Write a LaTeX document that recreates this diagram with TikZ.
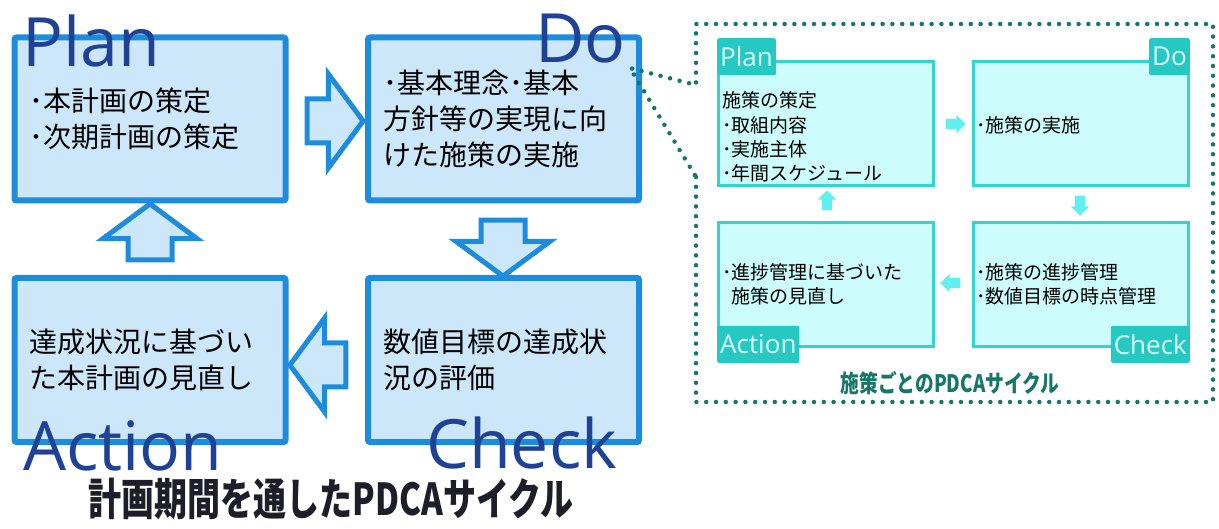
\documentclass[tikz,border=0pt]{standalone}
\usepackage{fontspec}
\setmainfont{Open Sans}
\newfontfamily\jpfont{Noto Sans CJK JP}
\usetikzlibrary{shapes.arrows}
\definecolor{mainblue}{RGB}{30,140,220}
\definecolor{mainfill}{RGB}{204,230,250}
\definecolor{navy}{RGB}{32,66,148}
\definecolor{cyanline}{RGB}{48,214,206}
\definecolor{cyanfill}{RGB}{204,252,252}
\definecolor{cyantag}{RGB}{38,200,194}
\definecolor{cyanarrow}{RGB}{96,240,240}
\definecolor{tagtext}{RGB}{220,255,255}
\definecolor{dotteal}{RGB}{22,118,104}
\definecolor{titleblack}{RGB}{30,30,40}

\begin{document}
\begin{tikzpicture}[x=1pt,y=-1pt]

\def\boxwidth{271pt}
\def\boxheight{163pt}

\tikzset{line/.style={draw,line width=6pt}}
\tikzset{mainbox/.style={line,draw=mainblue,fill=mainfill,rounded corners=2pt,minimum width=\boxwidth,minimum height=\boxheight,text width=240pt,align=left,inner sep=0pt,font=\jpfont\fontsize{28}{36}\selectfont}}
\tikzset{bigarrow/.style={single arrow,draw=mainblue,fill=mainfill,line width=5pt,minimum height=56pt,inner xsep=0pt,inner ysep=19.5pt,single arrow head extend=25pt,single arrow tip angle=107}}
\tikzset{phase/.style={font=\fontsize{68}{68}\selectfont,text=navy,inner sep=0pt,anchor=base west}}
\tikzset{dotline/.style={draw=dotteal,line width=4.5pt,line cap=round,dash pattern=on 0pt off 9.8pt}}
\tikzset{panel/.style={draw=cyanline,line width=3pt,fill=cyanfill,minimum width=215pt,minimum height=124pt,inner sep=0pt}}
\tikzset{tag/.style={fill=cyantag,text=tagtext,font=\fontsize{26}{26}\selectfont,inner xsep=3pt,inner ysep=0pt,minimum height=37pt,rounded corners=1.5pt}}
\tikzset{smalltext/.style={font=\jpfont\fontsize{19}{24.3}\selectfont,align=left,anchor=west,inner sep=0pt}}
\tikzset{smallarrow/.style={single arrow,fill=cyanarrow,draw=none,minimum height=20pt,inner xsep=0pt,inner ysep=5pt,single arrow head extend=4pt}}

\useasboundingbox (0,0) rectangle (1219,529);

% whole-plan cycle
\node[mainbox] (plan) at (150,119) {･本計画の策定\\･次期計画の策定};
\node[mainbox] (do) at (503.5,119) {･基本理念･基本\\方針等の実現に向\\けた施策の実施};
\node[mainbox,minimum height=164pt] (action) at (150,360) {達成状況に基づい\\た本計画の見直し};
\node[mainbox,minimum height=164pt] (check) at (503.5,360) {数値目標の達成状\\況の評価};

\node[bigarrow] (plantodo) at (327,121) {};
\node[bigarrow,rotate=-90] (dotocheck) at (503,240) {};
\node[bigarrow,rotate=180] (checktoaction) at (326,365) {};
\node[bigarrow,rotate=90] (actiontoplan) at (150,240) {};

\node[phase] (planlabel) at (22,67) {Plan};
\node[phase] (dolabel) at (535,63) {Do};
\node[phase] (actionlabel) at (23,470) {Action};
\node[phase] (checklabel) at (426,468) {Check};

\node[font=\jpfont\bfseries\fontsize{44}{44}\selectfont,xscale=0.75,inner sep=0pt,text=titleblack] (title) at (331,499) {計画期間を通したPDCAサイクル};

% callout frame
\coordinate (calltip) at (630,68);
\coordinate (gapup) at (696,85);
\coordinate (gaplow) at (696,177);
\coordinate (framenw) at (696,24);
\coordinate (framene) at (1213,24);
\coordinate (framese) at (1213,402);
\coordinate (framesw) at (696,402);
\draw[dotline] (gaplow) -- (framesw) -- (framese) -- (framene) -- (framenw) -- (gapup) -- (calltip) -- cycle;

% per-measure cycle
\node[panel] (planpanel) at (826,123.5) {};
\node[panel] (dopanel) at (1081,123.5) {};
\node[panel] (actionpanel) at (826,284.5) {};
\node[panel] (checkpanel) at (1081,284.5) {};

\node[tag,anchor=north west] (plantag) at (717,38) {Plan};
\node[tag,anchor=north east] (dotag) at (1190,38) {Do};
\node[tag,anchor=south west] (actiontag) at (717,363) {Action};
\node[tag,anchor=south east] (checktag) at (1190,363) {Check};

\node[smalltext] (plantext) at (722,137) {施策の策定\\･取組内容\\･実施主体\\･年間スケジュール};
\node[smalltext] (dotext) at (976,125) {･施策の実施};
\node[smalltext] (actiontext) at (722,284) {･進捗管理に基づいた\\\phantom{･}施策の見直し};
\node[smalltext] (checktext) at (976,284) {･施策の進捗管理\\･数値目標の時点管理};

\node[smallarrow] (pdarrow) at (953,124) {};
\node[smallarrow,rotate=-90] (dcarrow) at (1080,203) {};
\node[smallarrow,rotate=180] (caarrow) at (953,283) {};
\node[smallarrow,rotate=90] (aparrow) at (827,203) {};

\node[font=\jpfont\bfseries\fontsize{24}{24}\selectfont,xscale=0.78,text=dotteal] (subtitle) at (950,383) {施策ごとのPDCAサイクル};

\end{tikzpicture}
\end{document}
